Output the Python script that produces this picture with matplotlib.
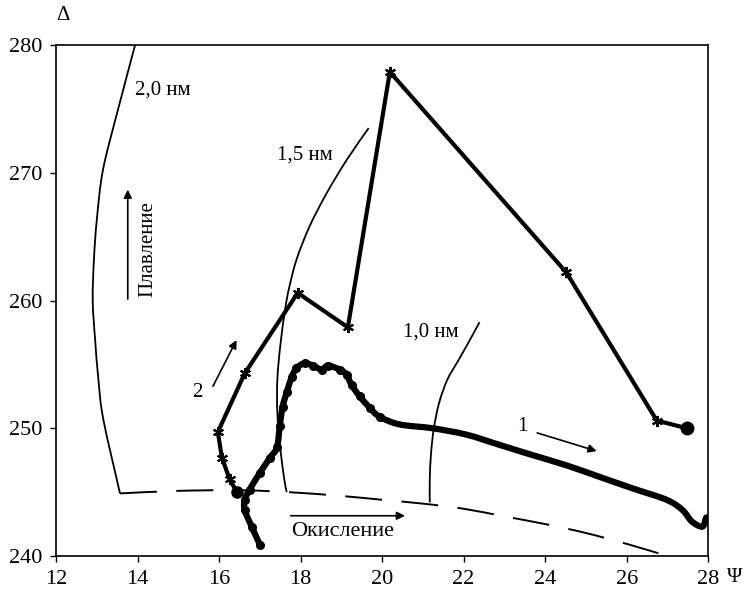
import matplotlib.pyplot as plt
from matplotlib.path import Path
from matplotlib.patches import PathPatch

plt.rcParams['font.family'] = ['Liberation Serif', 'DejaVu Serif']

# Кривая 1 (точки)
psi_1 = [17.0, 16.8, 16.63, 16.63, 16.75, 17.0, 17.25, 17.42, 17.49, 17.56, 17.66, 17.78,
         17.9, 18.1, 18.3, 18.52, 18.67, 18.96, 19.13, 19.25, 19.45, 19.7, 19.94, 20.43,
         21.24, 22.07, 22.88, 23.69, 24.52, 25.33, 26.14, 26.98, 27.37, 27.6, 27.86, 27.95, 28.0]
delta_1 = [240.9, 242.3, 243.6, 244.4, 245.2, 246.5, 247.7, 248.5, 250.2, 251.7, 252.8, 254.0,
           254.7, 255.1, 254.9, 254.6, 254.9, 254.6, 254.2, 253.4, 252.5, 251.6, 250.9, 250.3,
           250.0, 249.5, 248.7, 247.9, 247.1, 246.2, 245.3, 244.4, 243.6, 242.7, 242.3, 243.0, 242.8]

# Кривая 2 (звездочки)
psi_2 = [16.44, 16.26, 16.07, 15.97, 16.63, 17.93, 19.16, 20.19, 24.52, 26.74, 27.48]
delta_2 = [245.0, 246.0, 247.7, 249.7, 254.3, 260.6, 257.9, 277.9, 262.2, 250.6, 250.0]

# Изолинии толщины
psi_20 = [13.94, 13.5, 13.15, 13.0, 12.93, 12.9, 12.96, 13.04, 13.16, 13.57]
delta_20 = [280.0, 274.7, 270.2, 266.3, 263.2, 260.0, 256.9, 253.8, 250.7, 244.9]

psi_15 = [17.66, 17.6, 17.5, 17.43, 17.43, 17.5, 17.62, 17.72, 17.9, 18.22, 18.64, 19.13, 19.67]
delta_15 = [245.0, 246.0, 248.5, 251.2, 253.8, 256.4, 259.3, 261.0, 263.2, 265.8, 268.4, 271.0, 273.5]

psi_10 = [21.17, 21.17, 21.2, 21.27, 21.4, 21.6, 21.85, 22.1, 22.39]
delta_10 = [244.2, 246.0, 248.0, 250.0, 252.0, 253.8, 255.2, 256.6, 258.3]

# Линия окисления (пунктир)
psi_ox = [13.57, 15.0, 16.5, 17.7, 19.0, 20.0, 21.0, 22.0, 23.0, 24.0, 25.0, 26.0, 27.0]
delta_ox = [244.9, 245.1, 245.15, 245.0, 244.7, 244.4, 244.1, 243.7, 243.1, 242.5, 241.8, 240.95, 240.0]

x_ticks = [12, 14, 16, 18, 20, 22, 24, 26, 28]
y_ticks = [240, 250, 260, 270, 280]


def smooth_path(xs, ys):
    # кривая Безье через точки (Catmull-Rom)
    pts = list(zip(xs, ys))
    n = len(pts)
    verts = [pts[0]]
    codes = [Path.MOVETO]
    for i in range(n - 1):
        p0 = pts[max(i - 1, 0)]
        p1 = pts[i]
        p2 = pts[i + 1]
        p3 = pts[min(i + 2, n - 1)]
        c1 = (p1[0] + (p2[0] - p0[0]) / 6, p1[1] + (p2[1] - p0[1]) / 6)
        c2 = (p2[0] - (p3[0] - p1[0]) / 6, p2[1] - (p3[1] - p1[1]) / 6)
        verts += [c1, c2, p2]
        codes += [Path.CURVE4] * 3
    return Path(verts, codes)


fig = plt.figure(figsize=(7.47, 5.93), dpi=100)
ax = fig.add_axes([0.075, 0.0624, 0.873, 0.8616])

for xs, ys in [(psi_20, delta_20), (psi_15, delta_15), (psi_10, delta_10)]:
    ax.add_patch(PathPatch(smooth_path(xs, ys), fill=False, edgecolor='black', lw=1.3))
ax.add_patch(PathPatch(smooth_path(psi_ox, delta_ox), fill=False, edgecolor='black',
                       lw=1.4, linestyle=(0, (19, 10))))

ax.add_patch(PathPatch(smooth_path(psi_1, delta_1), fill=False, edgecolor='black',
                       lw=4.5, capstyle='round', joinstyle='round'))
ax.plot(psi_1[:23], delta_1[:23], 'o', color='black', markersize=5.5)
ax.plot(psi_2, delta_2, color='black', lw=3, marker=(6, 2, 0), markersize=8,
        markeredgewidth=1.5)
ax.plot(psi_2[0], delta_2[0], 'o', color='black', markersize=8)
ax.plot(psi_2[-1], delta_2[-1], 'o', color='black', markersize=9)

# Подписи
fs = 15
ax.text(14.62, 276.5, '2,0 нм', fontsize=fs, ha='center', va='center')
ax.text(18.1, 271.4, '1,5 нм', fontsize=fs, ha='center', va='center')
ax.text(21.2, 257.5, '1,0 нм', fontsize=fs, ha='center', va='center')
ax.text(14.25, 264.0, 'Плавление', fontsize=fs, rotation=90, ha='center', va='center')
ax.text(19.02, 241.9, 'Окисление', fontsize=16, ha='center', va='center')
ax.text(23.45, 250.1, '1', fontsize=fs, ha='center', va='center')
ax.text(15.46, 252.8, '2', fontsize=fs, ha='center', va='center')

arrow = dict(arrowstyle='-|>', color='black', lw=1.2, mutation_scale=12)
ax.annotate('', xy=(13.76, 268.9), xytext=(13.76, 259.9), arrowprops=arrow)
ax.annotate('', xy=(20.63, 243.15), xytext=(17.69, 243.15), arrowprops=arrow)
ax.annotate('', xy=(25.33, 248.15), xytext=(23.74, 249.7), arrowprops=arrow)
ax.annotate('', xy=(16.46, 257.1), xytext=(15.82, 253.1), arrowprops=arrow)

ax.set_xlim(12, 28)
ax.set_ylim(240, 280)
ax.set_xticks(x_ticks)
ax.set_yticks(y_ticks)
ax.tick_params(direction='out', length=4, width=1, labelsize=16, pad=6)
for s in ax.spines.values():
    s.set_linewidth(1.2)

fig.text(63 / 747, 1 - 15 / 593, 'Δ', fontsize=15, ha='center', va='center')
fig.text(735 / 747, 1 - 578 / 593, 'Ψ', fontsize=15, ha='center', va='center')

fig.savefig('out.png', dpi=100)
